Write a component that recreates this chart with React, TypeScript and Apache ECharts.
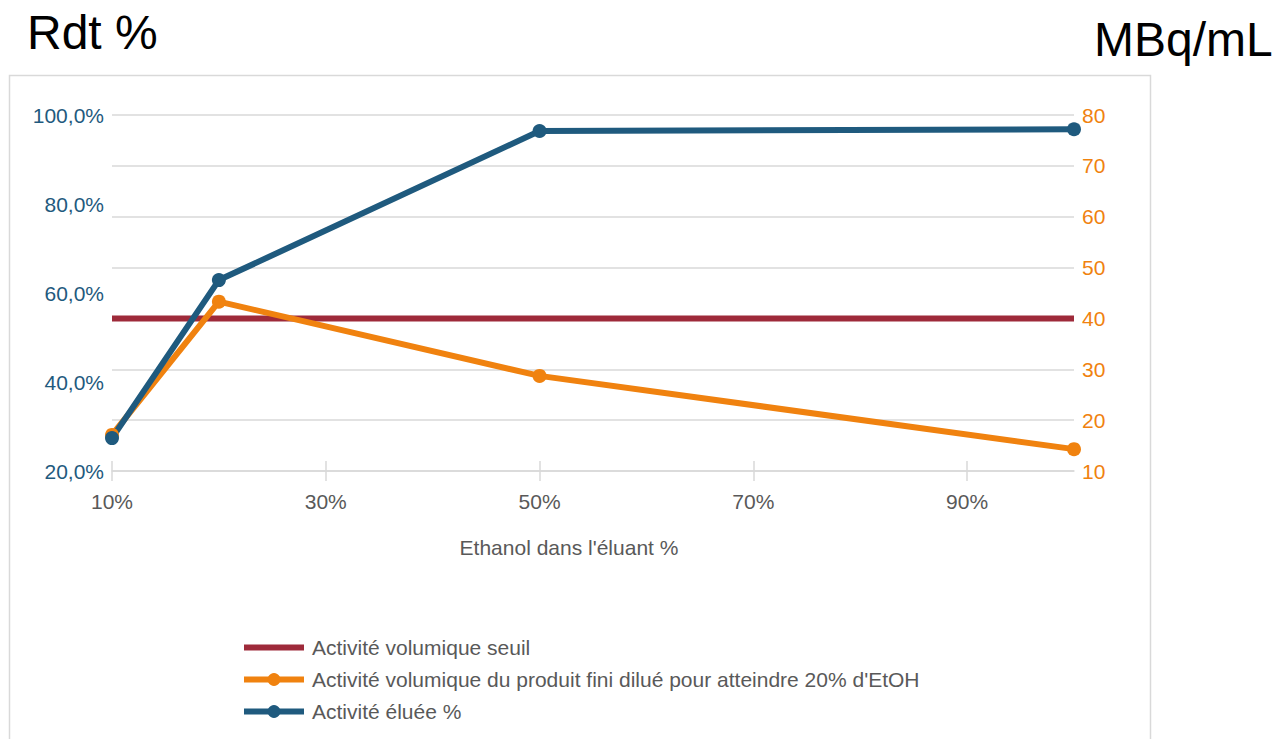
import React, { useEffect, useRef } from "react";
import * as echarts from "echarts";

const ethanolPct = [10, 20, 50, 100];
const eluted = [27.4, 62.9, 96.4, 96.8];
const diluted = [17.1, 43.3, 28.7, 14.3];
const thresholdValue = 40;
const xTicks = [10, 30, 50, 70, 90];
const seriesNames = [
  "Activité volumique seuil",
  "Activité volumique du produit fini dilué pour atteindre 20% d'EtOH",
  "Activité éluée %",
];

const BLUE = "#1f5a7e";
const ORANGE = "#f0820f";
const RED = "#9e2a3a";
const GREY = "#595959";
const FONT = "'Liberation Sans', Arial, sans-serif";
const FS = 21;

export default function App() {
  const ref = useRef<HTMLDivElement>(null);
  useEffect(() => {
    if (!ref.current) return;
    const chart = echarts.init(ref.current, undefined, { renderer: "svg" });
    const xAxisBase = {
      type: "value",
      min: 10,
      max: 100,
      position: "bottom",
      splitLine: { show: false },
    };
    chart.setOption({
      animation: false,
      textStyle: { fontFamily: FONT },
      grid: { left: 112, right: 206, top: 115, bottom: 268 },
      graphic: [
        {
          type: "rect",
          shape: { x: 9.5, y: 75.5, width: 1141, height: 700 },
          style: { fill: "none", stroke: "#d9d9d9", lineWidth: 1.5 },
          silent: true,
        },
        {
          type: "text",
          left: 27,
          top: 8,
          style: { text: "Rdt %", fontSize: 48, fill: "#000", fontFamily: FONT },
        },
        {
          type: "text",
          left: 1094,
          top: 15,
          style: { text: "MBq/mL", fontSize: 48, fill: "#000", fontFamily: FONT },
        },
        {
          type: "text",
          x: 569,
          y: 547,
          style: {
            text: "Ethanol dans l'éluant %",
            fontSize: FS,
            fill: GREY,
            fontFamily: FONT,
            align: "center",
            verticalAlign: "middle",
          },
        },
      ],
      legend: {
        orient: "vertical",
        left: 241,
        top: 637,
        padding: 0,
        itemWidth: 60,
        itemHeight: 16,
        itemGap: 11,
        lineStyle: { width: 6 },
        data: [
          { name: seriesNames[0], itemStyle: { opacity: 0 } },
          { name: seriesNames[1] },
          { name: seriesNames[2] },
        ],
        textStyle: { fontSize: FS, color: GREY, fontFamily: FONT, padding: [0, 0, 0, 3] },
      },
      xAxis: [
        {
          ...xAxisBase,
          axisLine: { show: true, lineStyle: { color: "#d9d9d9", width: 1.5 } },
          axisTick: {
            show: true,
            length: 10,
            customValues: xTicks,
            lineStyle: { color: "#d9d9d9", width: 1.5 },
          },
          axisLabel: {
            customValues: xTicks,
            formatter: (v: number) => `${v}%`,
            fontSize: FS,
            color: GREY,
            margin: 20,
            fontFamily: FONT,
          },
        },
        {
          ...xAxisBase,
          axisLine: { show: false },
          axisTick: {
            show: true,
            inside: true,
            length: 10,
            customValues: xTicks,
            lineStyle: { color: "#d9d9d9", width: 1.5 },
          },
          axisLabel: { show: false },
        },
      ],
      yAxis: [
        {
          type: "value",
          position: "left",
          min: 20,
          max: 100,
          interval: 20,
          axisLine: { show: false },
          axisTick: { show: false },
          splitLine: { show: false },
          axisLabel: {
            formatter: (v: number) => `${v.toFixed(1).replace(".", ",")}%`,
            fontSize: FS,
            color: BLUE,
            margin: 8,
            fontFamily: FONT,
          },
        },
        {
          type: "value",
          position: "right",
          min: 10,
          max: 80,
          interval: 10,
          axisLine: { show: false },
          axisTick: { show: false },
          splitLine: { show: true, lineStyle: { color: "#d9d9d9", width: 1.5 } },
          axisLabel: {
            fontSize: FS,
            color: ORANGE,
            margin: 8,
            fontFamily: FONT,
          },
        },
      ],
      series: [
        {
          name: seriesNames[0],
          type: "line",
          xAxisIndex: 0,
          yAxisIndex: 1,
          data: [
            [ethanolPct[0], thresholdValue],
            [ethanolPct[ethanolPct.length - 1], thresholdValue],
          ],
          symbol: "none",
          lineStyle: { color: RED, width: 6 },
          itemStyle: { color: RED },
        },
        {
          name: seriesNames[1],
          type: "line",
          xAxisIndex: 0,
          yAxisIndex: 1,
          data: ethanolPct.map((x, i) => [x, diluted[i]]),
          symbol: "circle",
          symbolSize: 14,
          lineStyle: { color: ORANGE, width: 6 },
          itemStyle: { color: ORANGE },
        },
        {
          name: seriesNames[2],
          type: "line",
          xAxisIndex: 0,
          yAxisIndex: 0,
          data: ethanolPct.map((x, i) => [x, eluted[i]]),
          symbol: "circle",
          symbolSize: 14,
          lineStyle: { color: BLUE, width: 6 },
          itemStyle: { color: BLUE },
        },
      ],
    });
    return () => chart.dispose();
  }, []);
  return (
    <div
      ref={ref}
      style={{ position: "fixed", left: 0, top: 0, width: 1280, height: 739, background: "#fff" }}
    />
  );
}
